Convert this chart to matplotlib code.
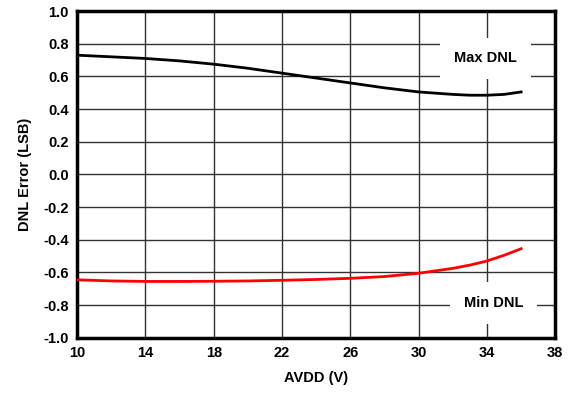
import numpy as np
import matplotlib.pyplot as plt

plt.rcParams['font.family'] = ['Liberation Sans', 'DejaVu Sans']
plt.rcParams['font.weight'] = 'bold'

# AVDD (V)
avdd = [10, 12, 14, 16, 18, 20, 22, 24, 26, 28, 30, 32, 33, 34, 35, 36]
max_dnl = [0.73, 0.72, 0.71, 0.695, 0.675, 0.65, 0.62, 0.59, 0.56, 0.53, 0.505, 0.49, 0.485, 0.485, 0.49, 0.505]
min_dnl = [-0.645, -0.652, -0.655, -0.655, -0.654, -0.652, -0.648, -0.643, -0.636, -0.625, -0.605, -0.575, -0.555, -0.53, -0.495, -0.455]
yticks = [-1.0, -0.8, -0.6, -0.4, -0.2, 0.0, 0.2, 0.4, 0.6, 0.8, 1.0]
ylabels = ["-1.0", "-0.8", "-0.6", "-0.4", "-0.2", "0.0", "0.2", "0.4", "0.6", "0.8", "1.0"]

fig = plt.figure(figsize=(5.76, 3.96), dpi=100)
ax = fig.add_axes([0.134, 0.147, 0.83, 0.825])

ax.plot(avdd, max_dnl, color='black', lw=2, zorder=3)
ax.plot(avdd, min_dnl, color='#ff0000', lw=2, zorder=3)

ax.set_xlim(10, 38)
ax.set_ylim(-1.0, 1.0)
ax.set_xticks(np.arange(10, 39, 4))
ax.set_yticks(yticks)
ax.set_yticklabels(ylabels)
ax.grid(True, color='#333333', lw=1)
ax.tick_params(length=0, labelsize=10.5, pad=6)
for s in ax.spines.values():
    s.set_linewidth(2.5)

ax.set_xlabel("AVDD (V)", fontsize=10.5, fontweight='bold', labelpad=8)
ax.set_ylabel("DNL Error (LSB)", fontsize=10.5, fontweight='bold', labelpad=8)

box = dict(facecolor='white', edgecolor='none', pad=10)
ax.text(33.9, 0.71, "Max DNL", ha='center', va='center', fontsize=10.5, fontweight='bold', bbox=box, zorder=4)
ax.text(34.4, -0.785, "Min DNL", ha='center', va='center', fontsize=10.5, fontweight='bold', bbox=box, zorder=4)

fig.savefig("out.png", dpi=100)
